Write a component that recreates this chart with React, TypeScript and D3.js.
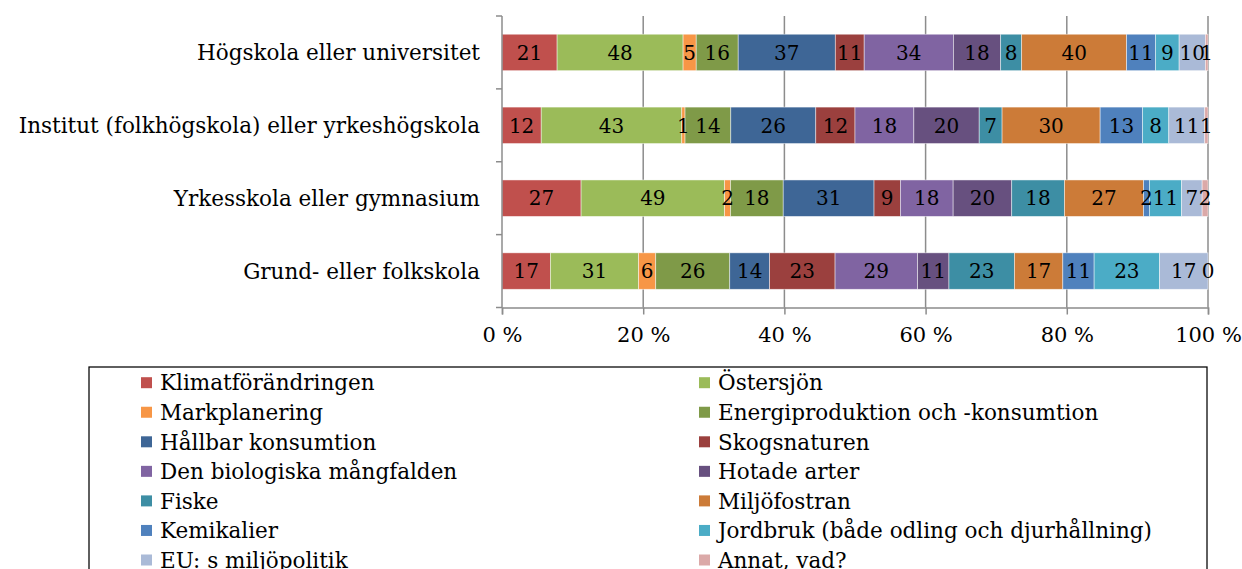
import React, { useEffect, useRef } from 'react';
import * as d3 from 'd3';

// education levels, top to bottom
const categories = [
  'Högskola eller universitet',
  'Institut (folkhögskola) eller yrkeshögskola',
  'Yrkesskola eller gymnasium',
  'Grund- eller folkskola',
];

const seriesNames = [
  'Klimatförändringen',
  'Östersjön',
  'Markplanering',
  'Energiproduktion och -konsumtion',
  'Hållbar konsumtion',
  'Skogsnaturen',
  'Den biologiska mångfalden',
  'Hotade arter',
  'Fiske',
  'Miljöfostran',
  'Kemikalier',
  'Jordbruk (både odling och djurhållning)',
  'EU: s miljöpolitik',
  'Annat, vad?',
];

const seriesColors = [
  '#c0504d', '#9bbb59', '#f79646', '#7f9a48', '#3e6696', '#9b403e', '#8064a2',
  '#67507f', '#3d8ea4', '#cc7b38', '#4f81bd', '#4bacc6', '#aabad7', '#dba9a8',
];

// counts per series, one array per education level
const hogskola = [21, 48, 5, 16, 37, 11, 34, 18, 8, 40, 11, 9, 10, 1];
const institut = [12, 43, 1, 14, 26, 12, 18, 20, 7, 30, 13, 8, 11, 1];
const yrkesskola = [27, 49, 2, 18, 31, 9, 18, 20, 18, 27, 2, 11, 7, 2];
const grundskola = [17, 31, 6, 26, 14, 23, 29, 11, 23, 17, 11, 23, 17, 0];

const rows = [hogskola, institut, yrkesskola, grundskola];
const tickValues = [0, 0.2, 0.4, 0.6, 0.8, 1];

const FONT = '"DejaVu Serif", Georgia, serif';

const App = () => {
  const chartRef = useRef<SVGSVGElement>(null);

  useEffect(() => {
    const svg = d3.select(chartRef.current);
    svg.selectAll('*').remove();

    const plot = { left: 502, right: 1208, top: 16, bottom: 307.5 };

    const x = d3.scaleLinear().domain([0, 1]).range([plot.left, plot.right]);
    const y = d3
      .scaleBand()
      .domain(categories)
      .range([plot.top, plot.bottom])
      .paddingInner(0.5)
      .paddingOuter(0.25);

    // gridlines
    svg
      .append('g')
      .selectAll('line')
      .data(tickValues.slice(1))
      .enter()
      .append('line')
      .attr('x1', (d) => x(d))
      .attr('x2', (d) => x(d))
      .attr('y1', plot.top)
      .attr('y2', plot.bottom)
      .attr('stroke', '#8c8c8c')
      .attr('stroke-width', 1.5);

    // stacked bars, normalised to 100 %
    rows.forEach((vals, i) => {
      const total = d3.sum(vals);
      let acc = 0;
      const segs = vals.map((v, j) => {
        const s = { x0: acc / total, x1: (acc + v) / total, v, j };
        acc += v;
        return s;
      });
      const g = svg.append('g');
      g.selectAll('rect')
        .data(segs)
        .enter()
        .append('rect')
        .attr('x', (d) => x(d.x0))
        .attr('width', (d) => x(d.x1) - x(d.x0))
        .attr('y', y(categories[i]))
        .attr('height', y.bandwidth())
        .attr('fill', (d) => seriesColors[d.j])
        .attr('stroke', 'rgba(255,255,255,0.6)')
        .attr('stroke-width', 0.75);
      g.selectAll('text')
        .data(segs)
        .enter()
        .append('text')
        .attr('x', (d) => (x(d.x0) + x(d.x1)) / 2)
        .attr('y', y(categories[i]) + y.bandwidth() / 2)
        .attr('dy', '0.36em')
        .attr('text-anchor', 'middle')
        .style('font-family', FONT)
        .style('font-size', '20px')
        .attr('fill', '#000')
        .text((d) => d.v);
    });

    // x axis
    const xAxis = svg
      .append('g')
      .attr('transform', `translate(0,${plot.bottom})`)
      .call(
        d3
          .axisBottom(x)
          .tickValues(tickValues)
          .tickSize(7)
          .tickPadding(13)
          .tickFormat((d) => `${Math.round(+d * 100)} %`)
      );
    xAxis.select('.domain').attr('stroke', '#8c8c8c').attr('stroke-width', 1.5);
    xAxis.selectAll('.tick line').attr('stroke', '#8c8c8c').attr('stroke-width', 1.5);
    xAxis
      .selectAll('text')
      .style('font-family', FONT)
      .style('font-size', '21px')
      .attr('fill', '#000');

    // y axis
    const yTicks = [plot.top, ...categories.map((c) => y(c) + y.bandwidth() + y.step() * y.paddingInner() / 2)];
    svg
      .append('line')
      .attr('x1', plot.left)
      .attr('x2', plot.left)
      .attr('y1', plot.top)
      .attr('y2', plot.bottom)
      .attr('stroke', '#8c8c8c')
      .attr('stroke-width', 1.5);
    svg
      .append('g')
      .selectAll('line')
      .data(yTicks)
      .enter()
      .append('line')
      .attr('x1', plot.left - 6)
      .attr('x2', plot.left)
      .attr('y1', (d) => d)
      .attr('y2', (d) => d)
      .attr('stroke', '#8c8c8c')
      .attr('stroke-width', 1.5);
    svg
      .append('g')
      .selectAll('text')
      .data(categories)
      .enter()
      .append('text')
      .attr('x', 480)
      .attr('y', (d) => y(d) + y.bandwidth() / 2)
      .attr('dy', '0.36em')
      .attr('text-anchor', 'end')
      .style('font-family', FONT)
      .style('font-size', '21.5px')
      .attr('fill', '#000')
      .text((d) => d);

    // legend
    const legend = svg.append('g');
    legend
      .append('rect')
      .attr('x', 89)
      .attr('y', 367)
      .attr('width', 1118)
      .attr('height', 230)
      .attr('fill', 'none')
      .attr('stroke', '#000')
      .attr('stroke-width', 1.25);
    const item = legend
      .selectAll('g')
      .data(seriesNames)
      .enter()
      .append('g')
      .attr('transform', (d, i) => `translate(${i % 2 === 0 ? 141 : 699},${382.7 + Math.floor(i / 2) * 29.55})`);
    item
      .append('rect')
      .attr('x', 0)
      .attr('y', -5.5)
      .attr('width', 11)
      .attr('height', 11)
      .attr('fill', (d, i) => seriesColors[i]);
    item
      .append('text')
      .attr('x', 19)
      .attr('dy', '0.36em')
      .style('font-family', FONT)
      .style('font-size', '21.5px')
      .attr('fill', '#000')
      .text((d) => d);
  }, []);

  return (
    <div style={{ position: 'absolute', left: 0, top: 0 }}>
      <svg ref={chartRef} width={1242} height={569} style={{ display: 'block', background: '#fff' }} />
    </div>
  );
};

export default App;
